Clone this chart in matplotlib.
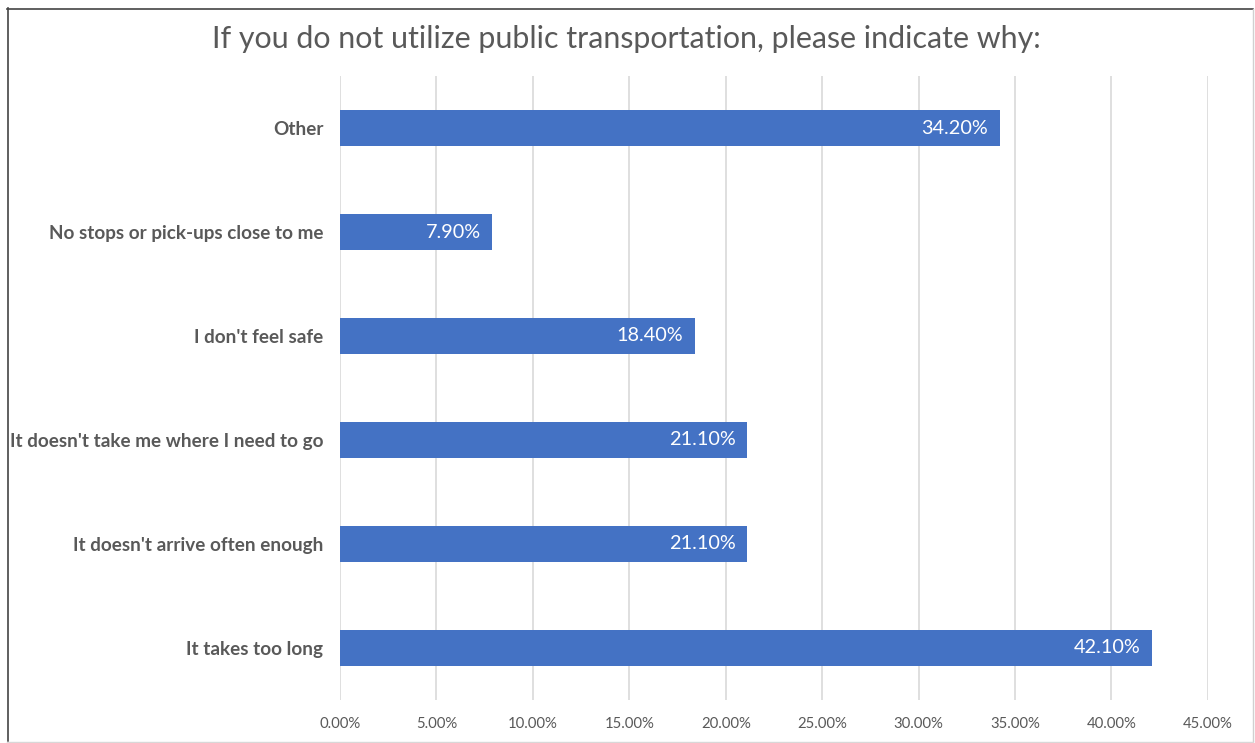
import matplotlib
matplotlib.use("Agg")
import matplotlib.pyplot as plt
from matplotlib.lines import Line2D
from matplotlib.ticker import FuncFormatter, MultipleLocator

# Survey responses, bottom to top as drawn
reasons = [
    "It takes too long",
    "It doesn't arrive often enough",
    "It doesn't take me where I need to go",
    "I don't feel safe",
    "No stops or pick-ups close to me",
    "Other",
]
shares = [42.10, 21.10, 21.10, 18.40, 7.90, 34.20]

title = "If you do not utilize public transportation, please indicate why:"

plt.rcParams["font.family"] = ["Lato", "DejaVu Sans"]

fig = plt.figure(figsize=(12.55, 7.43), dpi=100)
ax = fig.add_axes([0.2709, 0.0579, 0.6916, 0.8398])

bar_color = "#4472C4"
text_gray = "#595959"

y = range(len(reasons))
ax.barh(y, shares, height=0.35, color=bar_color, zorder=3)

for yi, v in zip(y, shares):
    ax.text(v - 0.6, yi, f"{v:.2f}%", ha="right", va="center",
            color="white", fontsize=14.3, zorder=4)

ax.set_xlim(0, 45)
ax.set_ylim(-0.5, len(reasons) - 0.5)
ax.xaxis.set_major_locator(MultipleLocator(5))
ax.xaxis.set_major_formatter(FuncFormatter(lambda v, _: f"{v:.2f}%"))
ax.grid(axis="x", color="#D9D9D9", linewidth=1.2, zorder=0)

ax.set_yticks(list(y))
ax.set_yticklabels(reasons, fontsize=13.6, fontweight="bold", color=text_gray)
ax.tick_params(axis="y", length=0, pad=12)
ax.tick_params(axis="x", length=0, pad=12, labelsize=10.7, labelcolor=text_gray)
for s in ax.spines.values():
    s.set_visible(False)

fig.text(0.499, 0.948, title, ha="center", va="center",
         fontsize=21.9, color=text_gray)

# frame around the chart
W, H = 1255, 743
def hline(y0, x0, x1, c, lw):
    fig.add_artist(Line2D([x0 / W, x1 / W], [1 - y0 / H, 1 - y0 / H],
                          color=c, linewidth=lw, transform=fig.transFigure))
def vline(x0, y0, y1, c, lw):
    fig.add_artist(Line2D([x0 / W, x0 / W], [1 - y0 / H, 1 - y1 / H],
                          color=c, linewidth=lw, transform=fig.transFigure))

hline(8.5, 7, 1253, "#444444", 1.2)
vline(7.5, 8, 741, "#444444", 1.2)
vline(1252.5, 9, 741, "#D0D0D0", 1.0)
hline(741.5, 7, 1253, "#D8D8D8", 1.0)

fig.savefig("out.png", dpi=100)
